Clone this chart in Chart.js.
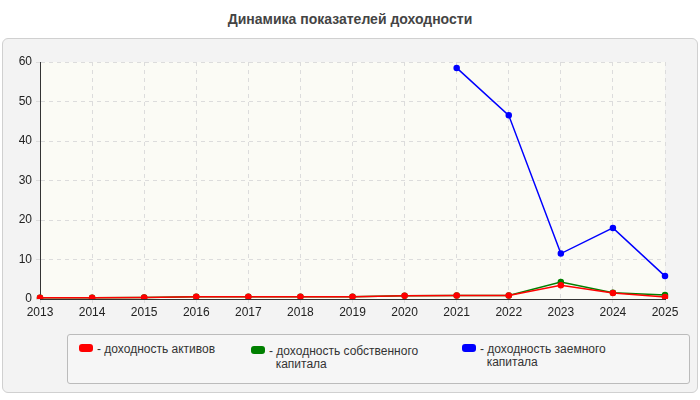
<!DOCTYPE html><html><head><meta charset="utf-8">
<script src="https://cdn.jsdelivr.net/npm/chart.js@4"></script>
<style>
body{margin:0;width:700px;height:400px;background:#fff;font-family:Arial,"Liberation Sans",sans-serif;position:relative;overflow:hidden}
#title{position:absolute;top:11px;left:0;width:700px;text-align:center;font-weight:bold;font-size:14px;color:#444}
#panel{position:absolute;left:2px;top:38px;width:694px;height:353px;border:1px solid #d0d0d0;border-radius:6px;background:#f3f3f3}
#c{position:absolute;left:0;top:0}
#leg{position:absolute;left:67px;top:334px;width:621px;height:48px;border:1px solid #bbb;border-radius:3px;background:#f6f6f6;font-size:12px;color:#333}
.it{position:absolute;top:8px;line-height:13px}
.sw{position:absolute;left:0;top:1px;width:14px;height:8px;border-radius:3px}
.tx{position:absolute;left:18px;top:0;white-space:nowrap}
</style></head><body>
<div id="title">Динамика показателей доходности</div>
<div id="panel"></div>
<div id="leg">
<div class="it" style="left:11px"><div class="sw" style="background:#ff0000"></div><div class="tx">- доходность активов</div></div>
<div class="it" style="left:183px;top:10px"><div class="sw" style="background:#008000"></div><div class="tx">- доходность собственного<br>&nbsp;&nbsp;капитала</div></div>
<div class="it" style="left:394px;top:8px"><div class="sw" style="background:#0000ff"></div><div class="tx">- доходность заемного<br>&nbsp;&nbsp;капитала</div></div>
</div>
<canvas id="c" width="700" height="400"></canvas>
<script>
const years=['2013','2014','2015','2016','2017','2018','2019','2020','2021','2022','2023','2024','2025'];
const assets=[0.3,0.3,0.4,0.6,0.6,0.6,0.6,0.8,0.9,0.9,3.5,1.5,0.5];
const equity=[0.3,0.3,0.4,0.6,0.6,0.6,0.6,0.8,0.9,0.9,4.3,1.6,1.0];
const borrowed=[null,null,null,null,null,null,null,null,58.5,46.5,11.5,18,5.8];
const yTicks=[0,10,20,30,40,50,60];
const bgPlugin={id:'bg',beforeDraw(ch){const a=ch.chartArea,x=ch.ctx;x.save();x.fillStyle='#fbfbf5';x.fillRect(a.left,a.top,a.right-a.left,a.bottom-a.top);x.restore();}};
function ds(label,data,color){return{label,data,borderColor:color,backgroundColor:color,borderWidth:1.5,pointRadius:2.5,pointHoverRadius:2.5,tension:0,spanGaps:false};}
new Chart(document.getElementById('c'),{type:'line',
data:{labels:years,datasets:[ds('доходность заемного капитала',borrowed,'#0000ff'),ds('доходность активов',assets,'#ff0000'),ds('доходность собственного капитала',equity,'#008000')]},
options:{responsive:false,animation:false,layout:{padding:{left:0,right:35,top:62,bottom:81}},
plugins:{legend:{display:false},tooltip:{enabled:false}},
scales:{
x:{afterFit(s){s.height=20;},grid:{color:'#dcdcdc',tickLength:4,drawTicks:true},border:{color:'#333',dash:[4,4]},ticks:{color:'#222',font:{size:12},padding:2,maxRotation:0}},
y:{min:0,max:60,afterFit(s){s.width=40;},afterBuildTicks(s){s.ticks=yTicks.map(v=>({value:v}));},grid:{color:'#dcdcdc',tickLength:4},border:{color:'#333',dash:[4,4]},ticks:{color:'#222',font:{size:12},padding:4}}
}},plugins:[bgPlugin]});
</script></body></html>
